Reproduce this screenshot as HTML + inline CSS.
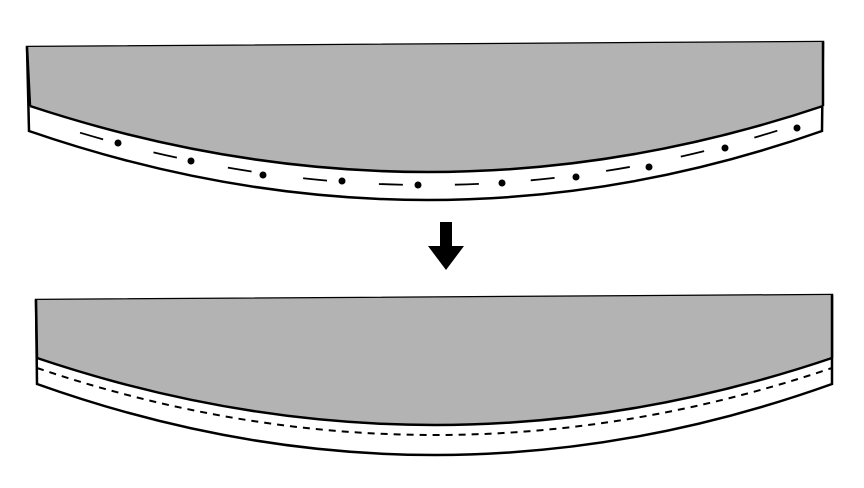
<!DOCTYPE html>
<html><head><meta charset="utf-8"><style>body{margin:0;background:#fff}svg{display:block}</style></head>
<body>
<svg width="864" height="488" viewBox="0 0 864 488">
<g>
<path d="M27,47 L823,42 L822,131 Q430,269 29,131 Z" fill="#fff" stroke="#000" stroke-width="2.5"/>
<path d="M27,47 L823,42 L823,106 Q430,238 30,106 Z" fill="#b3b3b3" stroke="none"/>
<path d="M30,106 Q430,238 823,106" fill="none" stroke="#000" stroke-width="2.5"/>
<line x1="27" y1="47" x2="30" y2="106" stroke="#000" stroke-width="2.5"/>
<line x1="823" y1="42" x2="823" y2="106" stroke="#000" stroke-width="2.5"/>
<path d="M40,120 Q430,250 810,120" fill="none" stroke="#000" stroke-width="1.8" stroke-dasharray="24,52" stroke-dashoffset="-42"/>
<g fill="#000">
<circle cx="118" cy="143" r="3.5"/><circle cx="191" cy="161" r="3.5"/><circle cx="263" cy="175" r="3.5"/><circle cx="342" cy="181" r="3.5"/><circle cx="418" cy="185" r="3.5"/><circle cx="502" cy="183" r="3.5"/><circle cx="576" cy="177" r="3.5"/><circle cx="649" cy="167" r="3.5"/><circle cx="725" cy="148" r="3.5"/><circle cx="797" cy="128" r="3.5"/>
</g>
</g>
<path d="M440,222 L452,222 L452,246 L464,246 L446,270 L428,246 L440,246 Z" fill="#000"/>
<g>
<path d="M36,300 L832,295 L832,384 Q435,526 37,384 Z" fill="#fff" stroke="#000" stroke-width="2.5"/>
<path d="M36,300 L832,295 L832,358 Q435,492 37,358 Z" fill="#b3b3b3" stroke="none"/>
<path d="M37,358 Q435,492 832,358" fill="none" stroke="#000" stroke-width="2.5"/>
<line x1="36" y1="300" x2="37" y2="358" stroke="#000" stroke-width="2.5"/>
<line x1="832" y1="295" x2="832" y2="358" stroke="#000" stroke-width="2.5"/>
<path d="M37,368 Q435,502 832,368" fill="none" stroke="#000" stroke-width="2" stroke-dasharray="7,6"/>
</g>
</svg>
</body></html>
